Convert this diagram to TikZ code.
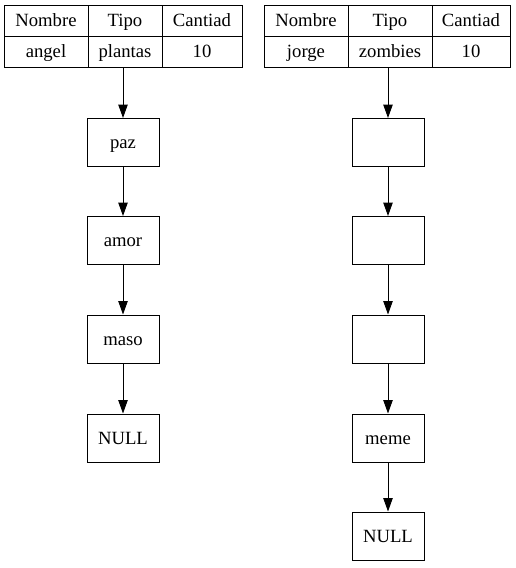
\documentclass[tikz,border=0pt]{standalone}
\usepackage{fontspec}
\setmainfont{Liberation Serif}
\usetikzlibrary{arrows.meta}
\begin{document}
\begin{tikzpicture}[x=0.75pt,y=-0.75pt,
  every node/.style={font=\fontsize{14}{16}\selectfont, text height=12pt, text depth=3pt},
  cell/.style={draw, line width=0.75pt, inner sep=0pt, minimum height=23.25pt},
  box/.style={draw, line width=0.75pt, inner sep=0pt, minimum width=54pt, minimum height=36pt},
  link/.style={line width=0.75pt, -{Triangle[length=10pt,width=7pt]}}]
\useasboundingbox (0,0) rectangle (516,568);
% left table
\node[cell, minimum width=63pt] (la1) at (46,20.5) {Nombre};
\node[cell, minimum width=55.5pt] (lb1) at (125,20.5) {Tipo};
\node[cell, minimum width=60pt] (lc1) at (202,20.5) {Cantiad};
\node[cell, minimum width=63pt] (la2) at (46,51.5) {angel};
\node[cell, minimum width=55.5pt] (lb2) at (125,51.5) {plantas};
\node[cell, minimum width=60pt] (lc2) at (202,51.5) {10};
% right table
\node[cell, minimum width=63pt] (ra1) at (306,20.5) {Nombre};
\node[cell, minimum width=63pt] (rb1) at (390,20.5) {Tipo};
\node[cell, minimum width=58.5pt] (rc1) at (471,20.5) {Cantiad};
\node[cell, minimum width=63pt] (ra2) at (306,51.5) {jorge};
\node[cell, minimum width=63pt] (rb2) at (390,51.5) {zombies};
\node[cell, minimum width=58.5pt] (rc2) at (471,51.5) {10};
% left list
\node[box] (l1) at (123,142.5) {paz};
\node[box] (l2) at (123,240.5) {amor};
\node[box] (l3) at (123,339) {maso};
\node[box] (l4) at (123,438) {NULL};
% right list
\node[box] (r1) at (388,142.5) {};
\node[box] (r2) at (388,240.5) {};
\node[box] (r3) at (388,339) {};
\node[box] (r4) at (388,438) {meme};
\node[box] (r5) at (388,536) {NULL};
% connectors
\draw[link] (l1.north |- lb2.south) -- (l1.north);
\draw[link] (l1) -- (l2);
\draw[link] (l2) -- (l3);
\draw[link] (l3) -- (l4);
\draw[link] (r1.north |- rb2.south) -- (r1.north);
\draw[link] (r1) -- (r2);
\draw[link] (r2) -- (r3);
\draw[link] (r3) -- (r4);
\draw[link] (r4) -- (r5);
\end{tikzpicture}
\end{document}
